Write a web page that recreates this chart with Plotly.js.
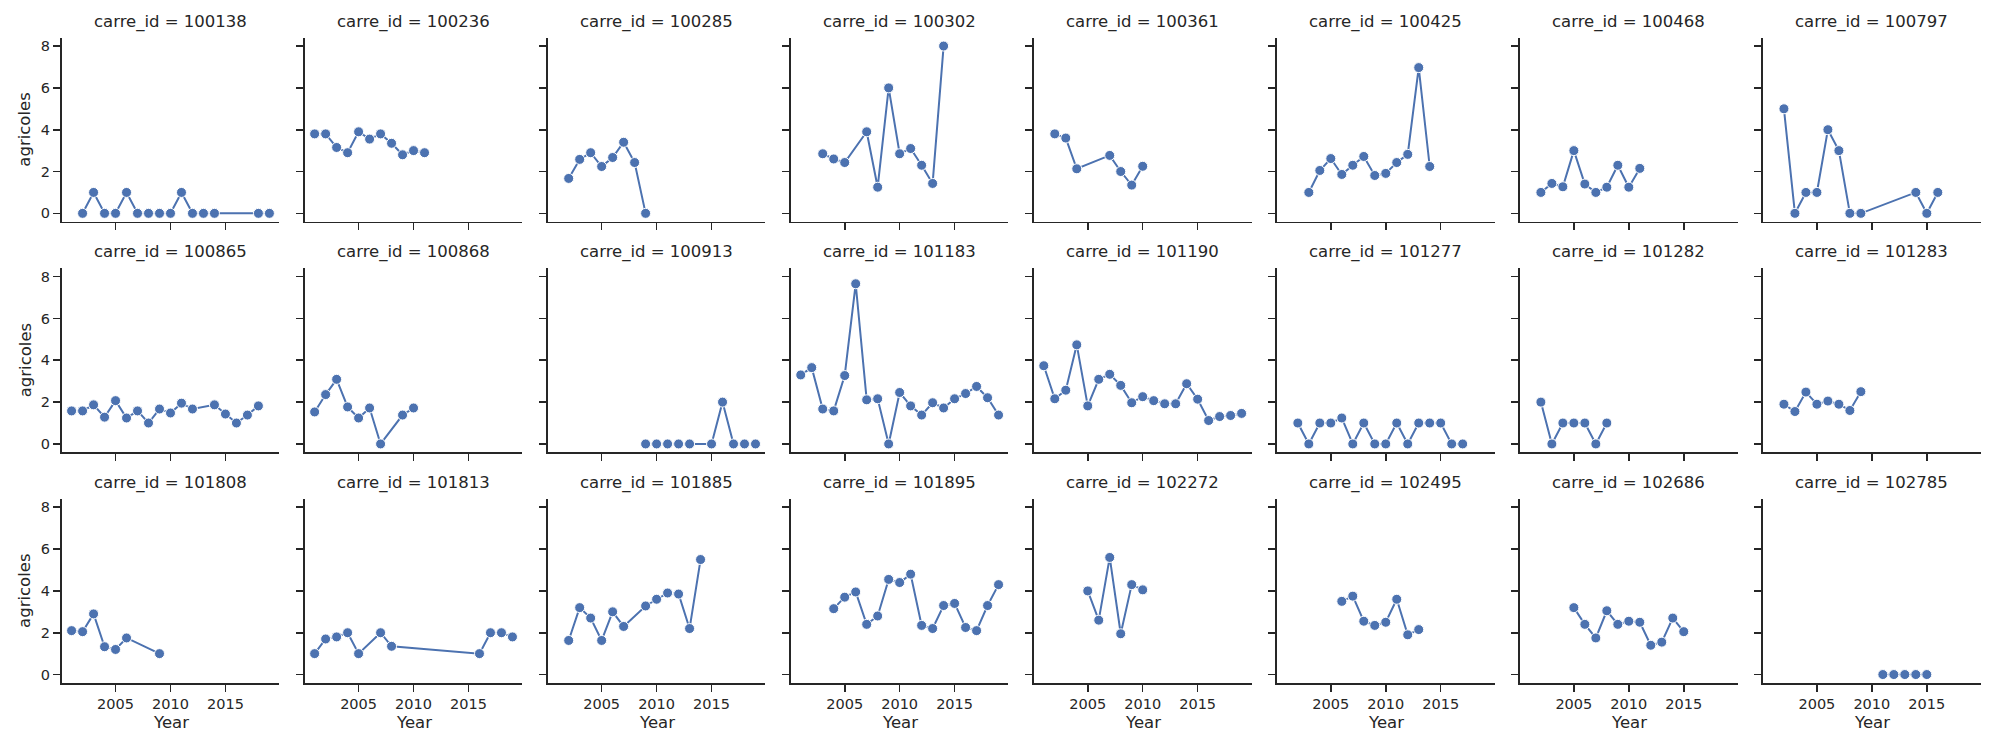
<!DOCTYPE html>
<html><head><meta charset="utf-8">
<script src="https://cdn.plot.ly/plotly-3.0.1.min.js"></script>
<style>body{margin:0;background:#fff}#chart{width:2012px;height:750px}</style>
</head><body><div id="chart"></div>
<script>
const carreIds = ["100138","100236","100285","100302","100361","100425","100468","100797",
                  "100865","100868","100913","101183","101190","101277","101282","101283",
                  "101808","101813","101885","101895","102272","102495","102686","102785"];

const years_100138 = [2002,2003,2004,2005,2006,2007,2008,2009,2010,2011,2012,2013,2014,2018,2019];
const agri_100138  = [0,1,0,0,1,0,0,0,0,1,0,0,0,0,0];
const years_100236 = [2001,2002,2003,2004,2005,2006,2007,2008,2009,2010,2011];
const agri_100236  = [3.8,3.8,3.15,2.9,3.9,3.55,3.8,3.35,2.8,3.0,2.9];
const years_100285 = [2002,2003,2004,2005,2006,2007,2008,2009];
const agri_100285  = [1.67,2.58,2.9,2.24,2.67,3.4,2.43,0];
const years_100302 = [2003,2004,2005,2007,2008,2009,2010,2011,2012,2013,2014];
const agri_100302  = [2.85,2.6,2.43,3.9,1.25,6.0,2.85,3.1,2.3,1.43,8.0];
const years_100361 = [2002,2003,2004,2007,2008,2009,2010];
const agri_100361  = [3.8,3.6,2.13,2.77,2.0,1.35,2.25];
const years_100425 = [2003,2004,2005,2006,2007,2008,2009,2010,2011,2012,2013,2014];
const agri_100425  = [1.0,2.05,2.62,1.86,2.3,2.72,1.81,1.91,2.43,2.82,6.97,2.24];
const years_100468 = [2002,2003,2004,2005,2006,2007,2008,2009,2010,2011];
const agri_100468  = [1.0,1.43,1.27,3.0,1.4,1.0,1.25,2.3,1.25,2.15];
const years_100797 = [2002,2003,2004,2005,2006,2007,2008,2009,2014,2015,2016];
const agri_100797  = [5,0,1,1,4,3,0,0,1,0,1];
const years_100865 = [2001,2002,2003,2004,2005,2006,2007,2008,2009,2010,2011,2012,2014,2015,2016,2017,2018];
const agri_100865  = [1.58,1.58,1.87,1.28,2.07,1.24,1.58,1.0,1.67,1.48,1.95,1.67,1.87,1.43,1.0,1.38,1.82];
const years_100868 = [2001,2002,2003,2004,2005,2006,2007,2009,2010];
const agri_100868  = [1.53,2.36,3.09,1.77,1.24,1.72,0,1.38,1.72];
const years_100913 = [2009,2010,2011,2012,2013,2015,2016,2017,2018,2019];
const agri_100913  = [0,0,0,0,0,0,2,0,0,0];
const years_101183 = [2001,2002,2003,2004,2005,2006,2007,2008,2009,2010,2011,2012,2013,2014,2015,2016,2017,2018,2019];
const agri_101183  = [3.3,3.65,1.67,1.58,3.27,7.66,2.11,2.16,0,2.46,1.82,1.38,1.97,1.72,2.16,2.41,2.75,2.21,1.38];
const years_101190 = [2001,2002,2003,2004,2005,2006,2007,2008,2009,2010,2011,2012,2013,2014,2015,2016,2017,2018,2019];
const agri_101190  = [3.74,2.16,2.57,4.74,1.82,3.09,3.33,2.8,1.97,2.26,2.07,1.92,1.92,2.88,2.14,1.12,1.31,1.36,1.46];
const years_101277 = [2002,2003,2004,2005,2006,2007,2008,2009,2010,2011,2012,2013,2014,2015,2016,2017];
const agri_101277  = [1,0,1,1,1.24,0,1,0,0,1,0,1,1,1,0,0];
const years_101282 = [2002,2003,2004,2005,2006,2007,2008];
const agri_101282  = [2,0,1,1,1,0,1];
const years_101283 = [2002,2003,2004,2005,2006,2007,2008,2009];
const agri_101283  = [1.9,1.55,2.48,1.9,2.05,1.9,1.6,2.5];
const years_101808 = [2001,2002,2003,2004,2005,2006,2009];
const agri_101808  = [2.1,2.05,2.9,1.33,1.2,1.75,1.0];
const years_101813 = [2001,2002,2003,2004,2005,2007,2008,2016,2017,2018,2019];
const agri_101813  = [1.0,1.7,1.8,2.0,1.0,2.0,1.35,1.0,2.0,2.0,1.8];
const years_101885 = [2002,2003,2004,2005,2006,2007,2009,2010,2011,2012,2013,2014];
const agri_101885  = [1.63,3.2,2.7,1.63,3.0,2.3,3.28,3.6,3.9,3.85,2.2,5.5];
const years_101895 = [2004,2005,2006,2007,2008,2009,2010,2011,2012,2013,2014,2015,2016,2017,2018,2019];
const agri_101895  = [3.15,3.7,3.95,2.4,2.8,4.55,4.4,4.8,2.35,2.2,3.3,3.4,2.25,2.1,3.3,4.3];
const years_102272 = [2005,2006,2007,2008,2009,2010];
const agri_102272  = [4.0,2.6,5.6,1.95,4.3,4.05];
const years_102495 = [2006,2007,2008,2009,2010,2011,2012,2013];
const agri_102495  = [3.5,3.75,2.55,2.35,2.5,3.6,1.9,2.15];
const years_102686 = [2005,2006,2007,2008,2009,2010,2011,2012,2013,2014,2015];
const agri_102686  = [3.2,2.4,1.75,3.05,2.4,2.55,2.5,1.4,1.55,2.7,2.05];
const years_102785 = [2011,2012,2013,2014,2015];
const agri_102785  = [0,0,0,0,0];

const xTickVals = [2005,2010,2015];
const yTickVals = [0,2,4,6,8];

const panelYears = [years_100138,years_100236,years_100285,years_100302,years_100361,years_100425,years_100468,years_100797,
  years_100865,years_100868,years_100913,years_101183,years_101190,years_101277,years_101282,years_101283,
  years_101808,years_101813,years_101885,years_101895,years_102272,years_102495,years_102686,years_102785];
const panelAgri = [agri_100138,agri_100236,agri_100285,agri_100302,agri_100361,agri_100425,agri_100468,agri_100797,
  agri_100865,agri_100868,agri_100913,agri_101183,agri_101190,agri_101277,agri_101282,agri_101283,
  agri_101808,agri_101813,agri_101885,agri_101895,agri_102272,agri_102495,agri_102686,agri_102785];

const W = 2012, H = 750;
const FONT = "DejaVu Sans";
const TXT = "#262626";
const BLUE = "#4c72b0";
const ncol = 8;
const x0 = 61.7, pw = 217.6, pitchX = 243.05;
const y0 = 37.7, ph = 184.0, pitchY = 230.6;

const traces = [];
const layout = {
  width: W, height: H,
  margin: {l:0, r:0, t:0, b:0},
  paper_bgcolor: "#fff", plot_bgcolor: "#fff",
  showlegend: false,
  font: {family: FONT, color: TXT, size: 14.5},
  annotations: []
};

carreIds.forEach((id, i) => {
  const r = Math.floor(i / ncol), c = i % ncol;
  const sfx = i === 0 ? "" : String(i + 1);
  const left = x0 + c * pitchX, right = left + pw;
  const top = y0 + r * pitchY, bottom = top + ph;
  traces.push({
    type: "scatter", mode: "lines+markers",
    x: panelYears[i], y: panelAgri[i],
    xaxis: "x" + sfx, yaxis: "y" + sfx,
    line: {color: BLUE, width: 2},
    marker: {color: BLUE, size: 10, line: {color: "#ffffff", width: 1}},
    hoverinfo: "x+y"
  });
  const axCommon = {
    showgrid: false, zeroline: false, showline: true,
    linecolor: TXT, linewidth: 1.7,
    ticks: "outside", ticklen: 7, tickwidth: 1.6, tickcolor: TXT,
    tickfont: {family: FONT, size: 14.5, color: TXT},
    fixedrange: true
  };
  layout["xaxis" + sfx] = Object.assign({}, axCommon, {
    domain: [left / W, right / W],
    anchor: "y" + sfx,
    range: [2000.1, 2019.9],
    tickmode: "array", tickvals: xTickVals,
    showticklabels: r === 2
  });
  layout["yaxis" + sfx] = Object.assign({}, axCommon, {
    domain: [1 - bottom / H, 1 - top / H],
    anchor: "x" + sfx,
    range: [-0.4, 8.4],
    tickmode: "array", tickvals: yTickVals,
    showticklabels: c === 0
  });
  layout.annotations.push({
    text: "carre_id = " + id, xref: "paper", yref: "paper",
    x: (left + right) / 2 / W, y: 1 - (top - 4) / H,
    xanchor: "center", yanchor: "bottom", showarrow: false,
    font: {family: FONT, size: 16.5, color: TXT}
  });
  if (c === 0) {
    layout.annotations.push({
      text: "agricoles", xref: "paper", yref: "paper",
      x: 25 / W, y: 1 - (top + bottom) / 2 / H,
      xanchor: "center", yanchor: "middle", textangle: -90, showarrow: false,
      font: {family: FONT, size: 16.5, color: TXT}
    });
  }
  if (r === 2) {
    layout.annotations.push({
      text: "Year", xref: "paper", yref: "paper",
      x: (left + right) / 2 / W, y: 1 - 722 / H,
      xanchor: "center", yanchor: "middle", showarrow: false,
      font: {family: FONT, size: 16.5, color: TXT}
    });
  }
});

Plotly.newPlot("chart", traces, layout, {displayModeBar: false, staticPlot: true});
</script>
</body></html>
